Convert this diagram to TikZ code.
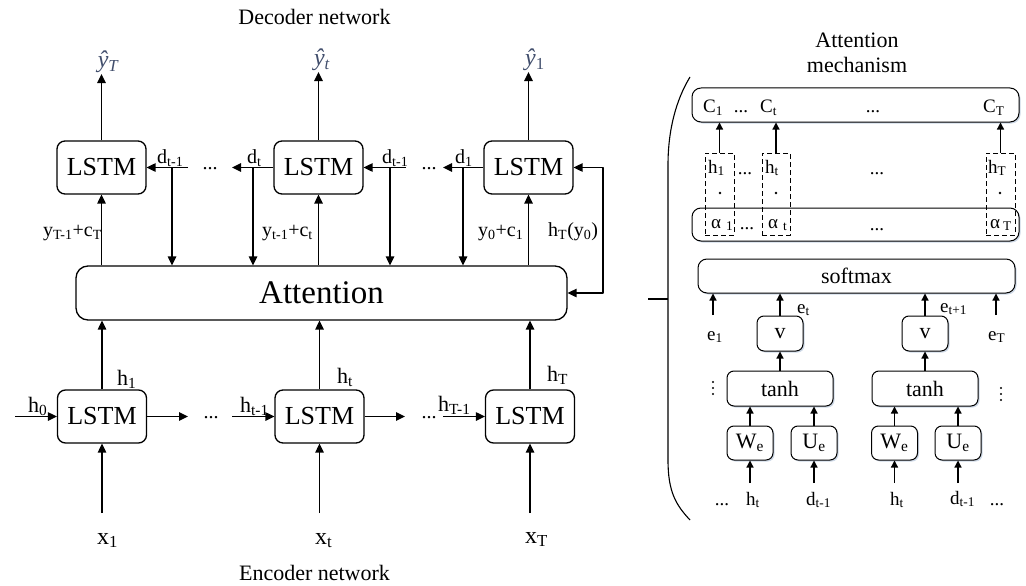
\documentclass[tikz,border=0pt]{standalone}
\usepackage{fontspec}
\setmainfont{Liberation Serif}
\usetikzlibrary{arrows.meta,shadows}
\definecolor{yhat}{RGB}{65,78,108}
\definecolor{shd}{RGB}{205,216,230}
\newcommand{\fs}[1]{\fontsize{#1}{#1}\selectfont}
\newcommand{\sbs}[1]{\textsubscript{#1}}
\begin{document}
\begin{tikzpicture}[x=1pt,y=-1pt,line join=round,
  lstm/.style={draw,rounded corners=8pt,line width=1.3pt,minimum width=89pt,minimum height=53pt,inner sep=0pt,font=\fs{26}},
  arr/.style={-{Triangle[length=9pt,width=8.5pt]},line width=1.4pt},
  darr/.style={{Triangle[length=9pt,width=8.5pt]}-{Triangle[length=9pt,width=8.5pt]},line width=1.4pt},
  rarr/.style={-{Triangle[length=7pt,width=7pt]},line width=1.3pt},
  lab/.style={inner sep=0pt,font=\fs{20}},
  hlab/.style={inner sep=0pt,font=\fs{22}},
  xlab/.style={inner sep=0pt,font=\fs{24}},
  yh/.style={inner sep=1pt,text=yhat,font=\fs{24}\itshape},
  ttl/.style={inner sep=0pt,font=\fs{22}},
  rbox/.style={draw,rounded corners=7pt,line width=1pt,inner sep=0pt,fill=white,font=\fs{22},
    drop shadow={shadow xshift=1.5pt,shadow yshift=-1.5pt,fill=shd,opacity=1}},
  dbox/.style={draw,dash pattern=on 5pt off 3pt,line width=0.9pt,inner sep=0pt},
  rlab/.style={inner sep=0pt,font=\fs{19}},
]
\useasboundingbox (0,0) rectangle (1026,586);

% ---------- titles ----------
\node[ttl,anchor=base] (dectitle) at (314.5,25) {Decoder network};
\node[ttl,anchor=base] (enctitle) at (314.5,580) {Encoder network};

% ---------- decoder ----------
\node[lstm] (d1) at (101.5,167.5) {LSTM};
\node[lstm] (d2) at (318.5,167.5) {LSTM};
\node[lstm] (d3) at (528.5,167.5) {LSTM};
\node[draw,rounded corners=12pt,line width=1.3pt,minimum width=491pt,minimum height=54pt,inner sep=0pt,font=\fs{33}] (att) at (321.5,293) {Attention};

\node[yh] (yT) at (108,62) {ŷ\sbs{T}};
\node[yh] (yt) at (322,60) {ŷ\sbs{t}};
\node[yh] (y1) at (535,60) {ŷ\sbs{\upshape 1}};
\draw[arr] (d1.north) -- (d1.north |- yT.south);
\draw[arr] (d2.north) -- (d2.north |- yt.south);
\draw[arr] (d3.north) -- (d3.north |- y1.south);

\coordinate (ca) at (232,167.5);
\coordinate (cb) at (188,167.5);
\coordinate (cc) at (443,167.5);
\coordinate (cd) at (406,167.5);
\draw[arr] (d2.west) -- (ca);
\node[lab,anchor=base] (dd1) at (210,169) {...};
\draw[arr] (cb) -- (d1.east);
\draw[arr] (d3.west) -- (cc);
\node[lab,anchor=base] (dd2) at (429,169) {...};
\draw[arr] (cd) -- (d2.east);

\coordinate (v1) at (172,167.5);
\coordinate (v2) at (253,167.5);
\coordinate (v3) at (390,167.5);
\coordinate (v4) at (463,167.5);
\draw[arr] (v1) -- (v1 |- att.north);
\draw[arr] (v2) -- (v2 |- att.north);
\draw[arr] (v3) -- (v3 |- att.north);
\draw[arr] (v4) -- (v4 |- att.north);

\node[lab,anchor=base west] (ld1) at (157,163) {d\sbs{t-1}};
\node[lab,anchor=base west] (ld2) at (247,163) {d\sbs{t}};
\node[lab,anchor=base west] (ld3) at (382,163) {d\sbs{t-1}};
\node[lab,anchor=base west] (ld4) at (455,163) {d\sbs{1}};

\coordinate (fb1) at (603,167.5);
\coordinate (fb2) at (603,293);
\draw[darr] (d3.east) -- (fb1) -- (fb2) -- (att.east);

\draw[arr] (att.north -| d1) -- (d1.south);
\draw[arr] (att.north -| d2) -- (d2.south);
\draw[arr] (att.north -| d3) -- (d3.south);

\node[lab,anchor=base west] (ly1) at (43,236) {y\sbs{T-1}+c\sbs{T}};
\node[lab,anchor=base west] (ly2) at (262,236) {y\sbs{t-1}+c\sbs{t}};
\node[lab,anchor=base west] (ly3) at (478,236) {y\sbs{0}+c\sbs{1}};
\node[lab,anchor=base west] (ly4) at (548,236) {h\sbs{T}(y\sbs{0})};

% ---------- encoder ----------
\node[lstm] (enc1) at (102,416.5) {LSTM};
\node[lstm] (enc2) at (319.5,416.5) {LSTM};
\node[lstm] (enc3) at (530,416.5) {LSTM};
\draw[arr] (enc1.north) -- (enc1.north |- att.south);
\draw[arr] (enc2.north) -- (enc2.north |- att.south);
\draw[arr] (enc3.north) -- (enc3.north |- att.south);
\node[hlab,anchor=base west] (lh1) at (117,385) {h\sbs{1}};
\node[hlab,anchor=base west] (lh2) at (337,383) {h\sbs{t}};
\node[hlab,anchor=base west] (lh3) at (547,381) {h\sbs{T}};

\coordinate (h0s) at (15,416.5);
\coordinate (ea) at (188,416.5);
\coordinate (eb) at (232,416.5);
\coordinate (ec) at (405,416.5);
\coordinate (ed) at (443,416.5);
\draw[arr] (h0s) -- (enc1.west);
\draw[arr] (enc1.east) -- (ea);
\node[lab,anchor=base] (ed1) at (211,418) {...};
\draw[arr] (eb) -- (enc2.west);
\draw[arr] (enc2.east) -- (ec);
\node[lab,anchor=base] (ed2) at (429,418) {...};
\draw[arr] (ed) -- (enc3.west);
\node[hlab,anchor=base west] (lh0) at (28,412) {h\sbs{0}};
\node[hlab,anchor=base west] (lht) at (240,412) {h\sbs{t-1}};
\node[hlab,anchor=base west] (lhT) at (438,411) {h\sbs{T-1}};

\node[xlab,anchor=base west] (x1) at (97,544) {x\sbs{1}};
\node[xlab,anchor=base west] (xt) at (315,544) {x\sbs{t}};
\node[xlab,anchor=base west] (xT) at (525,543) {x\sbs{T}};
\coordinate (x1s) at (102,513);
\coordinate (xts) at (319.5,513);
\coordinate (xTs) at (530,513);
\draw[arr] (x1s) -- (enc1.south);
\draw[arr] (xts) -- (enc2.south);
\draw[arr] (xTs) -- (enc3.south);

% ---------- attention mechanism ----------
\node[ttl,anchor=base] (at1) at (857,48) {Attention};
\node[ttl,anchor=base] (at2) at (857,73) {mechanism};
\draw[line width=1.1pt] (690,77) .. controls (676,100) and (668,130) .. (668,165) -- (668,460) .. controls (668,492) and (676,505) .. (690,520);
\draw[line width=1.1pt] (648,299) -- (668,299);

\node[rbox,minimum width=327pt,minimum height=34pt,rounded corners=9pt] (cbox) at (855.5,105) {};
\node[rlab,anchor=base west] (c1) at (703,113) {C\sbs{1}};
\node[rlab,anchor=base] (cdots1) at (741,113) {...};
\node[rlab,anchor=base west] (ct) at (760,113) {C\sbs{t}};
\node[rlab,anchor=base] (cdots2) at (873,113) {...};
\node[rlab,anchor=base west] (cT) at (983,113) {C\sbs{T}};

\node[rbox,minimum width=327pt,minimum height=33pt,rounded corners=9pt] (abox) at (855.5,224.5) {};
\node[dbox,minimum width=29pt,minimum height=82pt] (db1) at (719.5,194) {};
\node[dbox,minimum width=28pt,minimum height=82pt] (db2) at (776,194) {};
\node[dbox,minimum width=29pt,minimum height=82pt] (db3) at (1000.5,194) {};
\draw[rarr] (db1.north) -- (db1.north |- cbox.south);
\draw[rarr] (db2.north) -- (db2.north |- cbox.south);
\draw[rarr] (db3.north) -- (db3.north |- cbox.south);

\node[rlab,anchor=base west] (hh1) at (708,173) {h\sbs{1}};
\node[rlab,anchor=base west] (hht) at (765,173) {h\sbs{t}};
\node[rlab,anchor=base west] (hhT) at (988,173) {h\sbs{T}};
\fill (720,193) circle (1.3pt);
\fill (776,193) circle (1.3pt);
\fill (1000,193) circle (1.3pt);
\node[rlab,anchor=base west] (al1) at (711,228) {α\hspace{5pt}\sbs{1}};
\node[rlab,anchor=base west] (alt) at (768,228) {α\hspace{5pt}\sbs{t}};
\node[rlab,anchor=base west] (alT) at (990,228) {α\hspace{3pt}\sbs{T}};
\node[rlab,anchor=base] (hd1) at (745,174) {...};
\node[rlab,anchor=base] (hd2) at (877,174) {...};
\node[rlab,anchor=base] (ad1) at (747,229) {...};
\node[rlab,anchor=base] (ad2) at (877,230) {...};

\node[rbox,minimum width=317pt,minimum height=34pt,rounded corners=9pt] (sm) at (856.5,276) {softmax};

\node[rbox,minimum width=46pt,minimum height=35pt] (vb1) at (780,333.5) {v};
\node[rbox,minimum width=46pt,minimum height=35pt] (vb2) at (925,333.5) {v};
\node[rbox,minimum width=106pt,minimum height=35pt] (tb1) at (780,388.5) {tanh};
\node[rbox,minimum width=106pt,minimum height=35pt] (tb2) at (925,388.5) {tanh};
\node[rbox,minimum width=46pt,minimum height=34pt] (wb1) at (750,443) {W\sbs{e}};
\node[rbox,minimum width=46pt,minimum height=34pt] (ub1) at (814,443) {U\sbs{e}};
\node[rbox,minimum width=46pt,minimum height=34pt] (wb2) at (894.5,443) {W\sbs{e}};
\node[rbox,minimum width=46pt,minimum height=34pt] (ub2) at (958,443) {U\sbs{e}};

\draw[rarr] (vb1.north) -- (vb1.north |- sm.south);
\draw[rarr] (vb2.north) -- (vb2.north |- sm.south);
\draw[rarr] (tb1.north) -- (vb1.south);
\draw[rarr] (tb2.north) -- (vb2.south);
\draw[rarr] (wb1.north) -- (wb1.north |- tb1.south);
\draw[rarr] (ub1.north) -- (ub1.north |- tb1.south);
\draw[rarr] (wb2.north) -- (wb2.north |- tb2.south);
\draw[rarr] (ub2.north) -- (ub2.north |- tb2.south);

\coordinate (es1) at (713,315);
\coordinate (esT) at (996,315);
\draw[rarr] (es1) -- (es1 |- sm.south);
\draw[rarr] (esT) -- (esT |- sm.south);
\node[rlab,anchor=base west] (le1) at (707,340) {e\sbs{1}};
\node[rlab,anchor=base west] (let) at (797,313) {e\sbs{t}};
\node[rlab,anchor=base west] (let1) at (940,312) {e\sbs{t+1}};
\node[rlab,anchor=base west] (leT) at (988,340) {e\sbs{T}};

\coordinate (bw1) at (750,483);
\coordinate (bu1) at (814,483);
\coordinate (bw2) at (894.5,483);
\coordinate (bu2) at (958,483);
\draw[rarr] (bw1) -- (wb1.south);
\draw[rarr] (bu1) -- (ub1.south);
\draw[rarr] (bw2) -- (wb2.south);
\draw[rarr] (bu2) -- (ub2.south);
\node[rlab,anchor=base west] (bh1) at (746,505) {h\sbs{t}};
\node[rlab,anchor=base west] (bd1) at (806,505) {d\sbs{t-1}};
\node[rlab,anchor=base west] (bh2) at (890,505) {h\sbs{t}};
\node[rlab,anchor=base west] (bd2) at (950,504) {d\sbs{t-1}};
\node[rlab,anchor=base] (bdots1) at (722,505) {...};
\node[rlab,anchor=base] (bdots2) at (997,505) {...};
% vertical dots
\foreach \yy in {382,388,394} \fill (713,\yy) circle (1.1pt);
\foreach \yy in {388,394,400} \fill (1001,\yy) circle (1.1pt);
\end{tikzpicture}
\end{document}
